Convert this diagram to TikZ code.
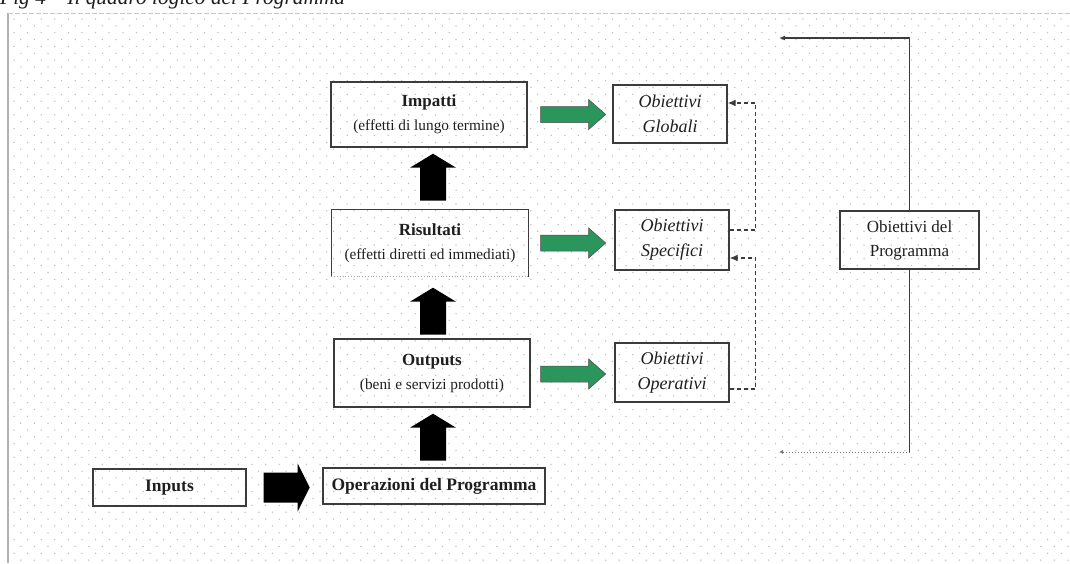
\documentclass[tikz,border=0pt]{standalone}
\usepackage{fontspec}
\setmainfont{Liberation Serif}
\usetikzlibrary{calc,arrows.meta}
\definecolor{boxline}{RGB}{60,60,60}
\definecolor{dotc}{RGB}{185,185,185}
\definecolor{arrgreen}{RGB}{42,150,92}
\definecolor{txt}{RGB}{30,30,30}
\begin{document}
\begin{tikzpicture}[x=1pt,y=-1pt,
  box/.style={draw=boxline,line width=1.4pt,inner sep=0pt,align=center,text=txt},
  mainfont/.style={font=\fontsize{15.3}{24}\selectfont},
  objfont/.style={font=\itshape\fontsize{18}{25}\selectfont},
  blackarr/.style={fill=black},
  greenarr/.style={fill=arrgreen,draw=black!70,line width=0.5pt},
  conn/.style={draw=boxline,line width=1.3pt,-{Latex[length=6pt,width=5pt]}},
  dashconn/.style={draw=boxline,line width=1.3pt,dash pattern=on 4pt off 3pt,-{Latex[length=8pt,width=7pt]}},
  dotconn/.style={draw=boxline!70,line width=1pt,dotted,-{Latex[length=4pt,width=4pt]}}]
\useasboundingbox (0,0) rectangle (1070,563);
% background dot grid
\foreach \r in {0,...,79} {
  \pgfmathsetmacro{\yy}{19+\r*6.85}
  \pgfmathsetmacro{\xo}{mod(\r,2)*6.8+14}
  \fill[dotc] \foreach \c in {0,...,77} {(\xo+\c*13.6,\yy) circle (0.75)};
}
\draw[gray!60,line width=1.2pt] (8,13) -- (8,563);
\draw[gray!45,line width=0.8pt,dash pattern=on 5pt off 2pt] (8,13) -- (1070,13);
% title (cut at top, as in the reference)
\node[anchor=base west,font=\itshape\fontsize{21.4}{24}\selectfont,text=txt,inner sep=0pt] (title) at (0,4) {Fig 4 – Il quadro logico del Programma};
% main boxes
\node[box,mainfont,minimum width=196pt,minimum height=65pt] (imp) at (429,114.5)
  {{\bfseries\fontsize{17}{24}\selectfont Impatti}\\(effetti di lungo termine)};
\node[box,draw=none,mainfont,minimum width=196pt,minimum height=66pt] (ris) at (430,243)
  {{\bfseries\fontsize{17}{24}\selectfont Risultati}\\(effetti diretti ed immediati)};
\draw[boxline,line width=1.4pt] (ris.south west) -- (ris.north west) -- (ris.north east) -- (ris.south east);
\draw[gray!70,line width=0.8pt,dotted] (ris.south west) -- (ris.south east);
\node[box,mainfont,minimum width=196pt,minimum height=68pt] (out) at (432,373)
  {{\bfseries\fontsize{17}{24}\selectfont Outputs}\\(beni e servizi prodotti)};
\node[box,font=\bfseries\fontsize{17.5}{22}\selectfont,minimum width=222pt,minimum height=36pt] (ops) at (434,486)
  {Operazioni del Programma};
\node[box,font=\bfseries\fontsize{17.5}{22}\selectfont,minimum width=153pt,minimum height=37pt] (inp) at (169.5,487.5)
  {Inputs};
% objective boxes
\node[box,objfont,minimum width=114pt,minimum height=58pt] (glob) at (670,114) {Obiettivi\\Globali};
\node[box,objfont,minimum width=114pt,minimum height=60pt] (spec) at (672,240) {Obiettivi\\Specifici};
\node[box,objfont,minimum width=114pt,minimum height=59pt] (oper) at (672,372.5) {Obiettivi\\Operativi};
\node[box,font=\fontsize{17}{24}\selectfont,minimum width=139pt,minimum height=58pt] (prog) at (909.5,240) {Obiettivi del\\Programma};
% black block arrows (upwards)
\fill[blackarr] ($(imp.south)+(4,6)$) -- ++(23,14) -- ++(-10,0) -- ++(0,33) -- ++(-26,0) -- ++(0,-33) -- ++(-10,0) -- cycle;
\fill[blackarr] ($(ris.south)+(3,11)$) -- ++(23,14) -- ++(-10,0) -- ++(0,33) -- ++(-26,0) -- ++(0,-33) -- ++(-10,0) -- cycle;
\fill[blackarr] ($(out.south)+(1,6)$) -- ++(23,14) -- ++(-10,0) -- ++(0,33) -- ++(-26,0) -- ++(0,-33) -- ++(-10,0) -- cycle;
% black block arrow inputs -> operazioni
\fill[blackarr] ($(inp.east)+(17,-15)$) -- ++(34,0) -- ++(0,-9) -- ++(12,24) -- ++(-12,24) -- ++(0,-9) -- ++(-34,0) -- cycle;
% green block arrows
\draw[greenarr] ($(imp.east)+(13,-8)$) -- ++(48,0) -- ++(0,-7) -- ++(17,15) -- ++(-17,15) -- ++(0,-7) -- ++(-48,0) -- cycle;
\draw[greenarr] ($(ris.east)+(12,-8)$) -- ++(48,0) -- ++(0,-7) -- ++(17,15) -- ++(-17,15) -- ++(0,-7) -- ++(-48,0) -- cycle;
\draw[greenarr] ($(out.east)+(10,-7)$) -- ++(48,0) -- ++(0,-7) -- ++(17,15) -- ++(-17,15) -- ++(0,-7) -- ++(-48,0) -- cycle;
% dashed feedback connectors
\draw[dashconn] ($(spec.east)+(0,-10)$) -- ($(spec.east)+(26,-10)$) -- ($(glob.east)+(28,-11)$) -- ($(glob.east)+(0,-11)$);
\draw[dashconn] ($(oper.east)+(0,16.5)$) -- ++(26,0) |- ($(spec.east)+(0,18)$);
% programme connectors
\coordinate (topend) at (779,38);
\coordinate (bend) at (909.5,452);
\coordinate (botend) at (779,452);
\draw[conn] (prog.north) |- (topend);
\draw[boxline,line width=1.3pt] (prog.south) -- (bend);
\draw[dotconn] (bend) -- (botend);
\end{tikzpicture}
\end{document}
